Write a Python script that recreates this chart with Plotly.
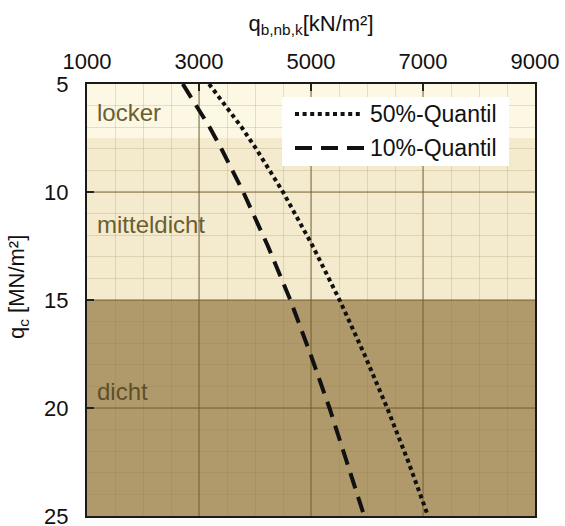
import plotly.graph_objects as go

# ---- data ----
qc = [5, 6, 7, 8, 9, 10, 12.5, 15, 17.5, 20, 22.5, 25]                        # MN/m²
q50 = [3180, 3480, 3760, 4020, 4270, 4500, 5030, 5510, 5950, 6360, 6740, 7090]  # kN/m², 50%-Quantil
q10 = [2710, 2960, 3190, 3400, 3600, 3790, 4230, 4630, 4990, 5330, 5640, 5950]  # kN/m², 10%-Quantil

zone_names = ["locker", "mitteldicht", "dicht"]
zone_from = [5, 7.5, 15]
zone_to = [7.5, 15, 25]

x_ticks = [1000, 3000, 5000, 7000, 9000]
y_ticks = [5, 10, 15, 20, 25]

# ---- styling ----
FONT = "Arial, Liberation Sans, sans-serif"
zone_fill = ["#fcf8e4", "#f4ebcf", "#b09a6b"]
zone_text_col = ["#6b5f30", "#6b5f30", "#5e4f2c"]
zone_label_y = [6.3, 11.5, 19.25]

fig = go.Figure()

fig.add_trace(go.Scatter(x=q50, y=qc, mode="lines", name="50%-Quantil",
                         line=dict(color="#111111", width=4, dash="4px,3.6px"),
                         showlegend=False, hoverinfo="skip"))
fig.add_trace(go.Scatter(x=q10, y=qc, mode="lines", name="10%-Quantil",
                         line=dict(color="#111111", width=4, dash="16px,9px"),
                         showlegend=False, hoverinfo="skip"))

shapes = []
for f0, f1, col in zip(zone_from, zone_to, zone_fill):
    shapes.append(dict(type="rect", xref="x", yref="y", x0=x_ticks[0], x1=x_ticks[-1],
                       y0=f0, y1=f1, fillcolor=col, line=dict(width=0), layer="below"))

# plot area target in window pixels: x 87..535, y 84..516
L, T, W, H = 87, 84, 448, 432
FW, FH = 565, 526
def px(xp):
    return (xp - L) / W
def py(yp):
    return 1 - (yp - T) / H

shapes.append(dict(type="rect", xref="paper", yref="paper", x0=px(282), x1=px(509),
                   y0=py(166), y1=py(97), fillcolor="white", line=dict(width=0), layer="above"))
shapes.append(dict(type="line", xref="paper", yref="paper", x0=px(295), x1=px(361),
                   y0=py(114), y1=py(114), line=dict(color="#111111", width=4, dash="4px,3.6px"),
                   layer="above"))
shapes.append(dict(type="line", xref="paper", yref="paper", x0=px(295), x1=px(364),
                   y0=py(148), y1=py(148), line=dict(color="#111111", width=4, dash="17px,9px"),
                   layer="above"))

annotations = []
for nm, ly, tc in zip(zone_names, zone_label_y, zone_text_col):
    annotations.append(dict(text=nm, xref="paper", yref="y", x=px(95), y=ly,
                            xanchor="left", yanchor="middle", showarrow=False,
                            font=dict(family=FONT, size=24, color=tc)))
for nm, yp in zip(["50%-Quantil", "10%-Quantil"], [114, 148]):
    annotations.append(dict(text=nm, xref="paper", yref="paper", x=px(368), y=py(yp),
                            xanchor="left", yanchor="middle", showarrow=False,
                            font=dict(family=FONT, size=23, color="#111111")))
# y-axis title placed like the reference (slightly above plot centre)
annotations.append(dict(text="q<sub>c</sub> [MN/m²]", xref="paper", yref="paper",
                        x=px(18), y=py(287), xanchor="center", yanchor="middle",
                        textangle=-90, showarrow=False,
                        font=dict(family=FONT, size=22, color="#111111")))

fig.update_layout(
    width=FW, height=FH,
    margin=dict(l=L, r=FW - L - W, t=T, b=FH - T - H),
    paper_bgcolor="white", plot_bgcolor="white",
    font=dict(family=FONT, size=22, color="#111111"),
    shapes=shapes, annotations=annotations,
    showlegend=False, hovermode=False,
)

fig.update_xaxes(
    side="top", range=[x_ticks[0], x_ticks[-1]], tickvals=x_ticks, automargin=False,
    ticks="inside", ticklen=7, tickwidth=1.5, tickcolor="#222222",
    showline=True, mirror=True, linecolor="#1a1a1a", linewidth=2,
    showgrid=True, gridcolor="rgba(110,90,45,0.45)", gridwidth=1.3,
    minor=dict(dtick=500, showgrid=True, gridcolor="rgba(150,125,70,0.22)", gridwidth=1),
    zeroline=False, tickfont=dict(size=22), ticklabelstandoff=4, ticklabeloverflow="allow",
    title=dict(text="q<sub>b,nb,k</sub>[kN/m²]", font=dict(size=22), standoff=12),
)
fig.update_yaxes(
    range=[y_ticks[-1], y_ticks[0]], tickvals=y_ticks, automargin=False,
    ticks="inside", ticklen=7, tickwidth=1.5, tickcolor="#222222",
    showline=True, mirror=True, linecolor="#1a1a1a", linewidth=2,
    showgrid=True, gridcolor="rgba(110,90,45,0.45)", gridwidth=1.3,
    minor=dict(dtick=1, showgrid=True, gridcolor="rgba(150,125,70,0.22)", gridwidth=1),
    zeroline=False, tickfont=dict(size=22), ticklabelstandoff=12, ticklabeloverflow="allow",
)

fig.write_html("out.html", config={"displayModeBar": False, "staticPlot": True},
               post_script="document.body.style.margin='0';document.body.style.overflow='hidden';")
